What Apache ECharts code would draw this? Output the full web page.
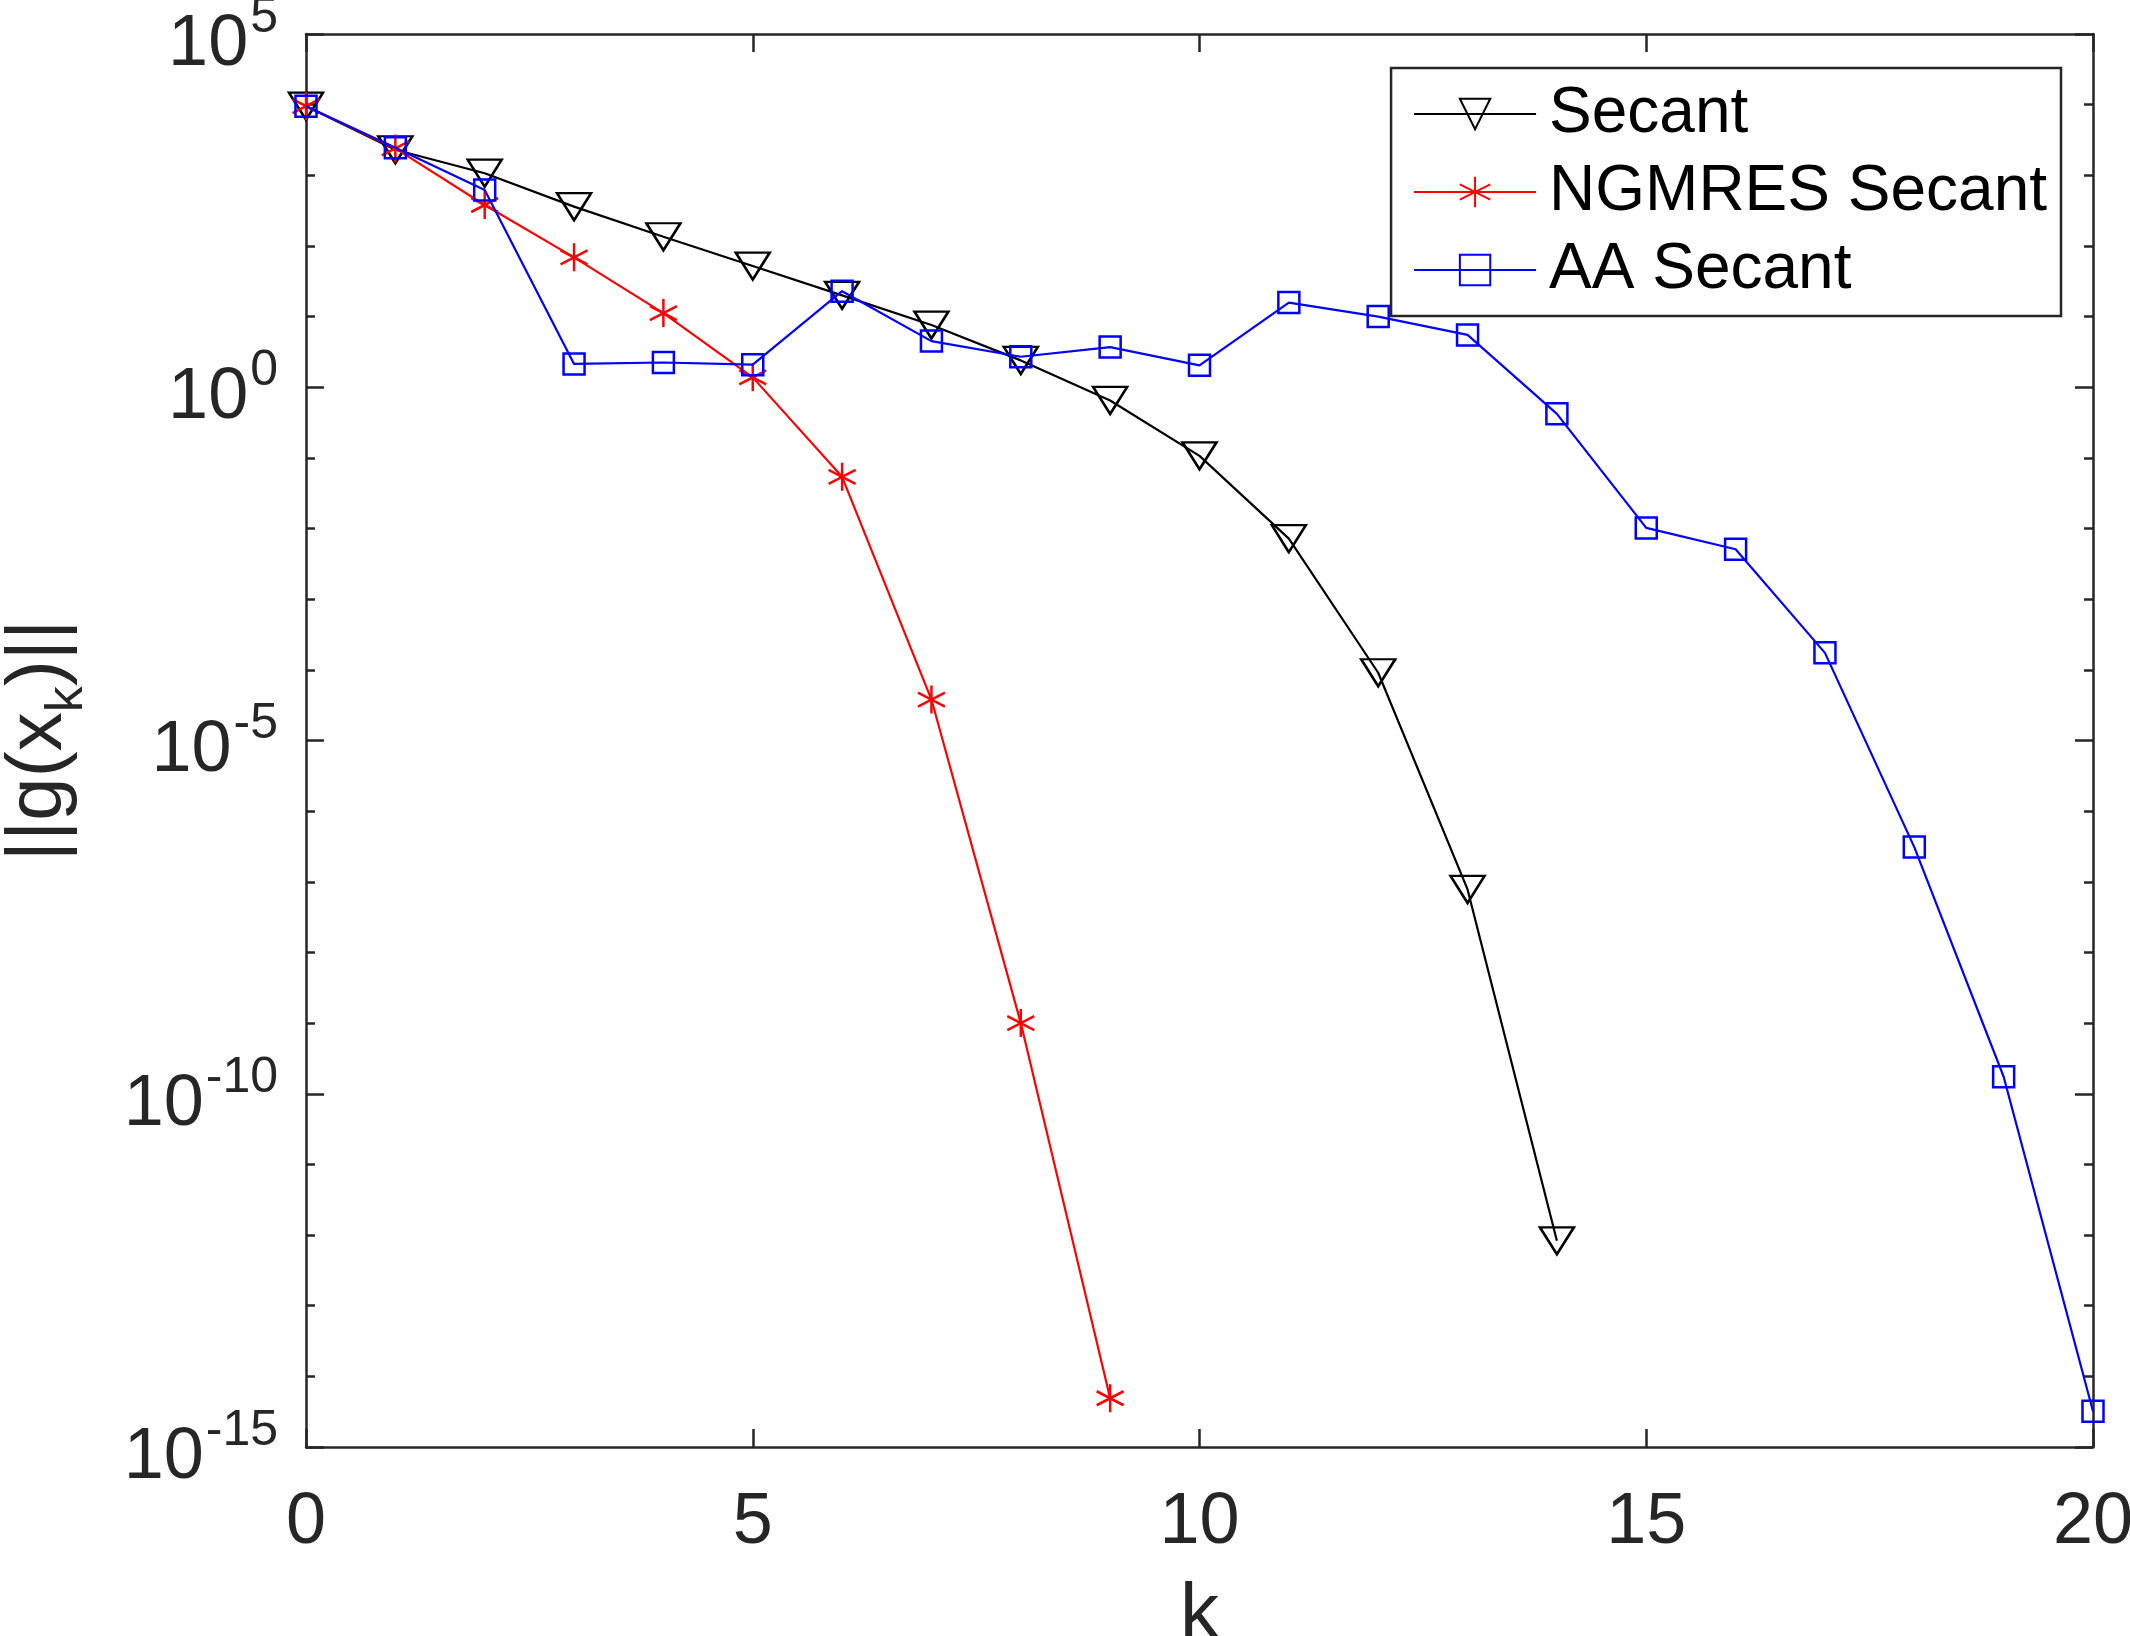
<!DOCTYPE html>
<html>
<head>
<meta charset="utf-8">
<script src="https://cdn.jsdelivr.net/npm/echarts@6/dist/echarts.min.js"></script>
<style>
  html, body { margin: 0; padding: 0; background: #fff; }
  #chart { width: 2130px; height: 1636px; }
</style>
</head>
<body>
<div id="chart"></div>
<script>
var myChart = echarts.init(document.getElementById('chart'));

// residual norms ||g(x_k)||, k = 0, 1, 2, ...
const secant = [9.5e3, 2.3e3, 1.07e3, 3.6e2, 1.35e2, 5.2e1, 2.0e1, 7.6, 2.4, 6.5e-1,
    1.07e-1, 7.2e-3, 9.1e-5, 7.8e-8, 8.3e-13];
const ngmresSecant = [9.5e3, 2.4e3, 3.8e2, 6.9e1, 1.12e1, 1.38, 5.4e-2, 3.8e-5, 1.0e-9, 4.9e-15];
const aaSecant = [9.5e3, 2.45e3, 6.2e2, 2.14, 2.24, 2.09, 2.29e1, 4.5, 2.7, 3.7,
    2.04, 1.58e1, 1.0e1, 5.5, 4.2e-1, 1.02e-2, 5.1e-3, 1.74e-4, 3.1e-7, 1.74e-10, 3.2e-15];

const seriesNames = ['Secant', 'NGMRES Secant', 'AA Secant'];
const xTicks = [0, 5, 10, 15, 20];
const yExponents = [-15, -10, -5, 0, 5];   // labelled decades

const axisColor = '#262626';
const font = 'Liberation Sans';

function toPoints(arr) {
    return arr.map(function (v, i) { return [i, v]; });
}

function xAxisOpt(pos, showLabel) {
    return {
        type: 'value',
        position: pos,
        min: xTicks[0],
        max: xTicks[xTicks.length - 1],
        interval: 5,
        axisLine: { show: true, onZero: false, lineStyle: { color: axisColor, width: 2.5 } },
        axisTick: { show: true, inside: true, length: 18, lineStyle: { color: axisColor, width: 2.5 } },
        axisLabel: {
            show: showLabel, color: axisColor, fontSize: 72, fontFamily: font, margin: 40
        },
        splitLine: { show: false },
        name: showLabel ? 'k' : '',
        nameLocation: 'middle',
        nameGap: 130,
        nameTextStyle: { color: axisColor, fontSize: 78, fontFamily: font }
    };
}

// every decade gets a short tick, the labelled ones a long tick (second axis)
function yAxisOpt(pos, major, showLabel) {
    var lo = Math.pow(10, yExponents[0]);
    var hi = Math.pow(10, yExponents[yExponents.length - 1]);
    return {
        type: 'log',
        logBase: 10,
        position: pos,
        min: lo,
        max: hi,
        interval: major ? 5 : 1,
        axisLine: { show: !major, onZero: false, lineStyle: { color: axisColor, width: 2.5 } },
        axisTick: { show: true, inside: true, length: major ? 18 : 9, lineStyle: { color: axisColor, width: 2.5 } },
        axisLabel: {
            show: showLabel,
            margin: 28,
            formatter: function (value) {
                var e = Math.round(Math.log10(value));
                if (yExponents.indexOf(e) < 0) return '';
                return '{b|10}{sup|' + e + '}';
            },
            rich: {
                b: { fontSize: 72, fontFamily: font, color: axisColor, verticalAlign: 'bottom', padding: [0, 0, 2, 0] },
                sup: { fontSize: 50, fontFamily: font, color: axisColor, verticalAlign: 'bottom', padding: [8, 0, 40, 2] }
            }
        },
        splitLine: { show: false },
        name: showLabel ? '{n|||g(x}{sub|k}{n|)||}' : '',
        nameLocation: 'middle',
        nameRotate: 90,
        nameGap: 212,
        nameTextStyle: {
            rich: {
                n: { fontSize: 78, fontFamily: font, color: axisColor, verticalAlign: 'bottom', padding: [0, 0, 16, 0] },
                sub: { fontSize: 52, fontFamily: font, color: axisColor, verticalAlign: 'bottom' }
            }
        }
    };
}

var series = [
    {
        name: seriesNames[0],
        type: 'line',
        data: toPoints(secant),
        symbol: 'triangle',
        symbolRotate: 180,
        symbolSize: [34, 27],
        showAllSymbol: true,
        lineStyle: { color: '#000', width: 2.2 },
        itemStyle: { color: 'rgba(255,255,255,0)', borderColor: '#000', borderWidth: 2.5 },
        z: 3
    },
    {
        name: seriesNames[1],
        type: 'line',
        data: toPoints(ngmresSecant),
        symbol: 'path://M10,0L10,20M1.34,5L18.66,15M1.34,15L18.66,5',
        symbolSize: [27, 28],
        showAllSymbol: true,
        lineStyle: { color: '#ff0000', width: 2.2 },
        itemStyle: { color: 'rgba(255,255,255,0)', borderColor: '#ff0000', borderWidth: 2.5 },
        z: 4
    },
    {
        name: seriesNames[2],
        type: 'line',
        data: toPoints(aaSecant),
        symbol: 'rect',
        symbolSize: 21,
        showAllSymbol: true,
        lineStyle: { color: '#0000ff', width: 2.2 },
        itemStyle: { color: 'rgba(255,255,255,0)', borderColor: '#0000ff', borderWidth: 2.5 },
        z: 5
    }
];

var option = {
    animation: false,
    backgroundColor: '#fff',
    grid: { left: 306, right: 37, top: 34, bottom: 189, containLabel: false, outerBoundsMode: 'none' },
    xAxis: [xAxisOpt('bottom', true), xAxisOpt('top', false)],
    yAxis: [
        yAxisOpt('left', false, true),
        yAxisOpt('left', true, false),
        yAxisOpt('right', false, false),
        yAxisOpt('right', true, false)
    ],
    legend: {
        orient: 'vertical',
        right: 69,
        top: 68,
        backgroundColor: '#fff',
        borderColor: axisColor,
        borderWidth: 2.5,
        borderRadius: 0,
        padding: [14, 14, 14, 22],
        itemGap: 14,
        itemWidth: 122,
        itemHeight: 38,
        textStyle: { fontSize: 64, fontFamily: font, color: '#000', padding: [0, 0, 0, 8] },
        data: seriesNames
    },
    series: series
};

myChart.setOption(option);
</script>
</body>
</html>
